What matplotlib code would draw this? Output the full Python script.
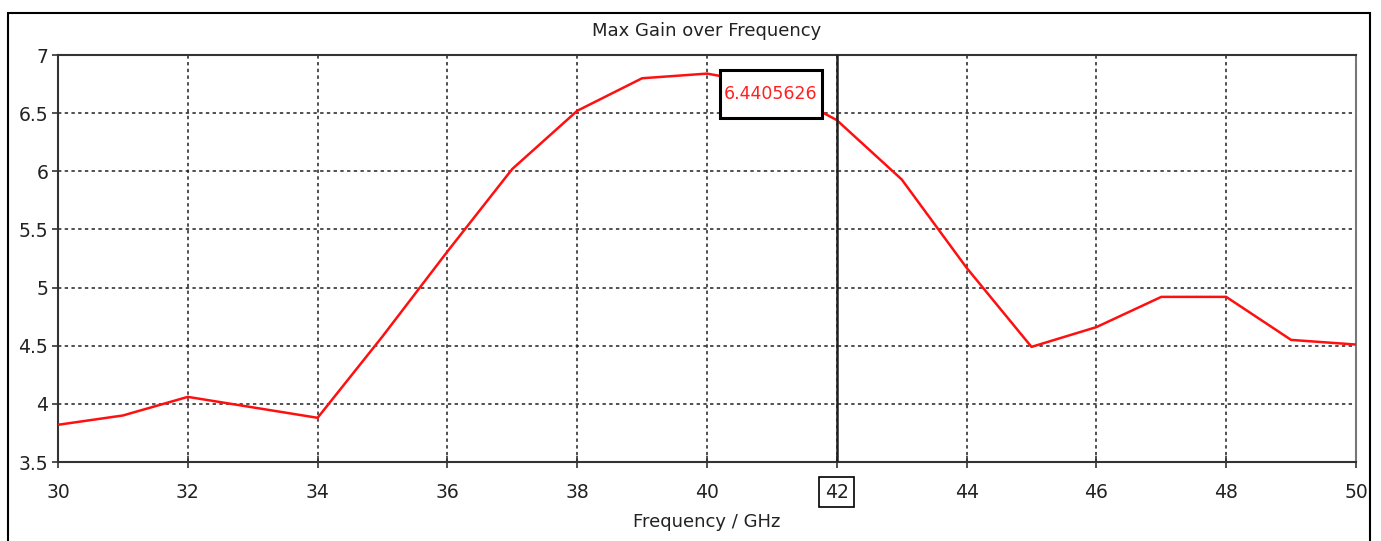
import matplotlib.pyplot as plt
from matplotlib.patches import Rectangle

# Max gain over frequency
freq_ghz = [30, 31, 32, 33, 34, 35, 36, 37, 38, 39, 40, 41, 42, 43, 44, 45, 46, 47, 48, 49, 50]
gain = [3.82, 3.90, 4.06, 3.97, 3.88, 4.58, 5.31, 6.02, 6.52, 6.80, 6.84, 6.74, 6.44,
        5.93, 5.17, 4.49, 4.66, 4.92, 4.92, 4.55, 4.51]
x_ticks = [30, 32, 34, 36, 38, 40, 42, 44, 46, 48, 50]
y_ticks = [3.5, 4, 4.5, 5, 5.5, 6, 6.5, 7]
marker_x = 42
marker_label = '6.4405626'

plt.rcParams['font.family'] = ['DejaVu Sans']

fig = plt.figure(figsize=(13.81, 5.41), dpi=100)
ax = fig.add_axes([58 / 1381, 79 / 541, 1298 / 1381, 407 / 541])

# outer frame around the whole plot window
fig.patches.append(Rectangle((8 / 1381, -0.01), 1362 / 1381, 533 / 541,
                             transform=fig.transFigure, fill=False,
                             edgecolor='black', linewidth=1.5))

ax.plot(freq_ghz, gain, color='#ff1010', linewidth=1.8, zorder=3)
ax.axvline(marker_x, color='#202020', linewidth=1.8, zorder=4)

ax.set_xlim(30, 50)
ax.set_ylim(3.5, 7)
ax.set_xticks(x_ticks)
ax.set_yticks(y_ticks)
ax.set_yticklabels(['3.5', '4', '4.5', '5', '5.5', '6', '6.5', '7'])
ax.grid(True, color='#202020', linestyle=(0, (2.2, 2.2)), linewidth=1.1)
ax.tick_params(axis='x', direction='inout', length=8, width=1.2, labelsize=13.5,
               pad=11, colors='#333333', labelcolor='#222222')
ax.tick_params(axis='y', direction='out', length=4, width=1.2, labelsize=13.5,
               pad=3, colors='#333333', labelcolor='#222222')
for side in ['left', 'bottom', 'top']:
    ax.spines[side].set_color('#333333')
    ax.spines[side].set_linewidth(1.5)
ax.spines['right'].set_color('#777777')
ax.spines['right'].set_linewidth(1.5)

# boxed tick label at the marker position
for tick, val in zip(ax.xaxis.get_major_ticks(), x_ticks):
    if val == marker_x:
        tick.label1.set_bbox(dict(boxstyle='square,pad=0.3', facecolor='white',
                                  edgecolor='black', linewidth=1.2))

# marker readout box
ax.add_patch(Rectangle((40.2, 6.46), 1.57, 0.41, facecolor='white', edgecolor='black',
                       linewidth=2.2, zorder=5))
ax.text(40.985, 6.665, marker_label, color='#ff2020', fontsize=12.5, ha='center',
        va='center', zorder=6)

ax.set_title('Max Gain over Frequency', fontsize=13, color='#222222', pad=14)
ax.set_xlabel('Frequency / GHz', fontsize=13, color='#222222', labelpad=8)

fig.savefig('out.png', dpi=100)
